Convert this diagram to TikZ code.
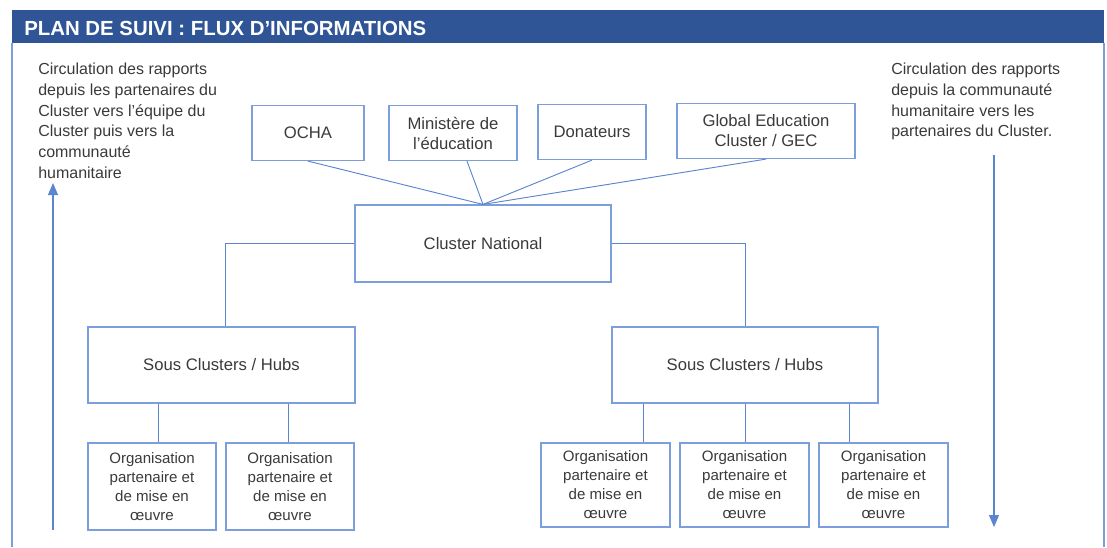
\documentclass[tikz,border=0pt]{standalone}
\usepackage{fontspec}
\setmainfont{Liberation Sans}
\usetikzlibrary{arrows.meta}
\definecolor{titlebar}{HTML}{2F5597}
\definecolor{boxline}{HTML}{7C9EDC}
\definecolor{conn}{HTML}{5B85D0}
\definecolor{txt}{HTML}{3A3A3A}
\begin{document}
\begin{tikzpicture}[x=0.75pt,y=-0.75pt,
  box/.style={draw=boxline,line width=0.9pt,rectangle,inner sep=0pt,align=center,text=txt,font=\fontsize{12.5}{15}\selectfont},
  orgbox/.style={box,minimum height=87*0.75pt,font=\fontsize{11.3}{14.2}\selectfont},
  link/.style={draw=conn,line width=0.7pt},
  flow/.style={draw=conn,line width=0.8pt,-{Triangle[length=9pt,width=7.5pt]}},
  side/.style={anchor=north west,inner sep=0pt,align=left,text=txt,font=\fontsize{12}{15.5}\selectfont}]
\useasboundingbox (0,0) rectangle (1107,547);
% frame and title
\fill[titlebar] (12,10) rectangle (1104,43);
\draw[boxline,line width=0.9pt] (12,43) -- (12,547);
\draw[boxline,line width=0.9pt] (1104,43) -- (1104,547);
\node[anchor=west,inner sep=0pt,text=white,font=\fontsize{15.3}{18}\selectfont\bfseries] (title) at (24,28.5) {PLAN DE SUIVI : FLUX D’INFORMATIONS};
% side texts
\node[side] (ltext) at (38,63) {Circulation des rapports\\depuis les partenaires du\\Cluster vers l’équipe du\\Cluster puis vers la\\communauté\\humanitaire};
\node[side] (rtext) at (891,63) {Circulation des rapports\\depuis la communauté\\humanitaire vers les\\partenaires du Cluster.};
\coordinate (la0) at (53,530);
\coordinate (la1) at (53,183);
\coordinate (ra0) at (994,155);
\coordinate (ra1) at (994,527);
\draw[flow] (la0) -- (la1);
\draw[flow] (ra0) -- (ra1);
% top row
\node[box,minimum width=112*0.75pt,minimum height=55*0.75pt] (ocha) at (308,133) {OCHA};
\node[box,minimum width=128*0.75pt,minimum height=55*0.75pt] (min) at (453,133) {Ministère de\\l’éducation};
\node[box,minimum width=108*0.75pt,minimum height=55*0.75pt] (don) at (592,132) {Donateurs};
\node[box,minimum width=178*0.75pt,minimum height=55*0.75pt] (gec) at (766,131) {Global Education\\Cluster / GEC};
% national
\node[box,minimum width=256*0.75pt,minimum height=77*0.75pt] (cn) at (483,243.5) {Cluster National};
\draw[link] (ocha.south) -- (cn.north);
\draw[link] ([xshift=10.5pt]min.south) -- (cn.north);
\draw[link] (don.south) -- (cn.north);
\draw[link] (gec.south) -- (cn.north);
% sub clusters
\node[box,minimum width=267*0.75pt,minimum height=76*0.75pt] (sc1) at (221.5,365) {Sous Clusters / Hubs};
\node[box,minimum width=266*0.75pt,minimum height=76*0.75pt] (sc2) at (745,365) {Sous Clusters / Hubs};
\coordinate (j1) at (225,0);
\draw[link] (cn.west) -| (sc1.north -| j1);
\draw[link] (cn.east) -| (sc2.north);
% organisations
\node[orgbox,minimum width=128*0.75pt] (o1) at (152,486.5) {Organisation\\partenaire et\\de mise en\\œuvre};
\node[orgbox,minimum width=128*0.75pt] (o2) at (290,486.5) {Organisation\\partenaire et\\de mise en\\œuvre};
\node[orgbox,minimum width=129*0.75pt,minimum height=84*0.75pt] (o3) at (605.5,485) {Organisation\\partenaire et\\de mise en\\œuvre};
\node[orgbox,minimum width=129*0.75pt,minimum height=84*0.75pt] (o4) at (744.5,485) {Organisation\\partenaire et\\de mise en\\œuvre};
\node[orgbox,minimum width=129*0.75pt,minimum height=84*0.75pt] (o5) at (883.5,485) {Organisation\\partenaire et\\de mise en\\œuvre};
\coordinate (k1) at (158,0);
\coordinate (k2) at (288,0);
\coordinate (k3) at (643,0);
\coordinate (k4) at (745,0);
\coordinate (k5) at (849,0);
\draw[link] (sc1.south -| k1) -- (o1.north -| k1);
\draw[link] (sc1.south -| k2) -- (o2.north -| k2);
\draw[link] (sc2.south -| k3) -- (o3.north -| k3);
\draw[link] (sc2.south -| k4) -- (o4.north -| k4);
\draw[link] (sc2.south -| k5) -- (o5.north -| k5);
\end{tikzpicture}
\end{document}
